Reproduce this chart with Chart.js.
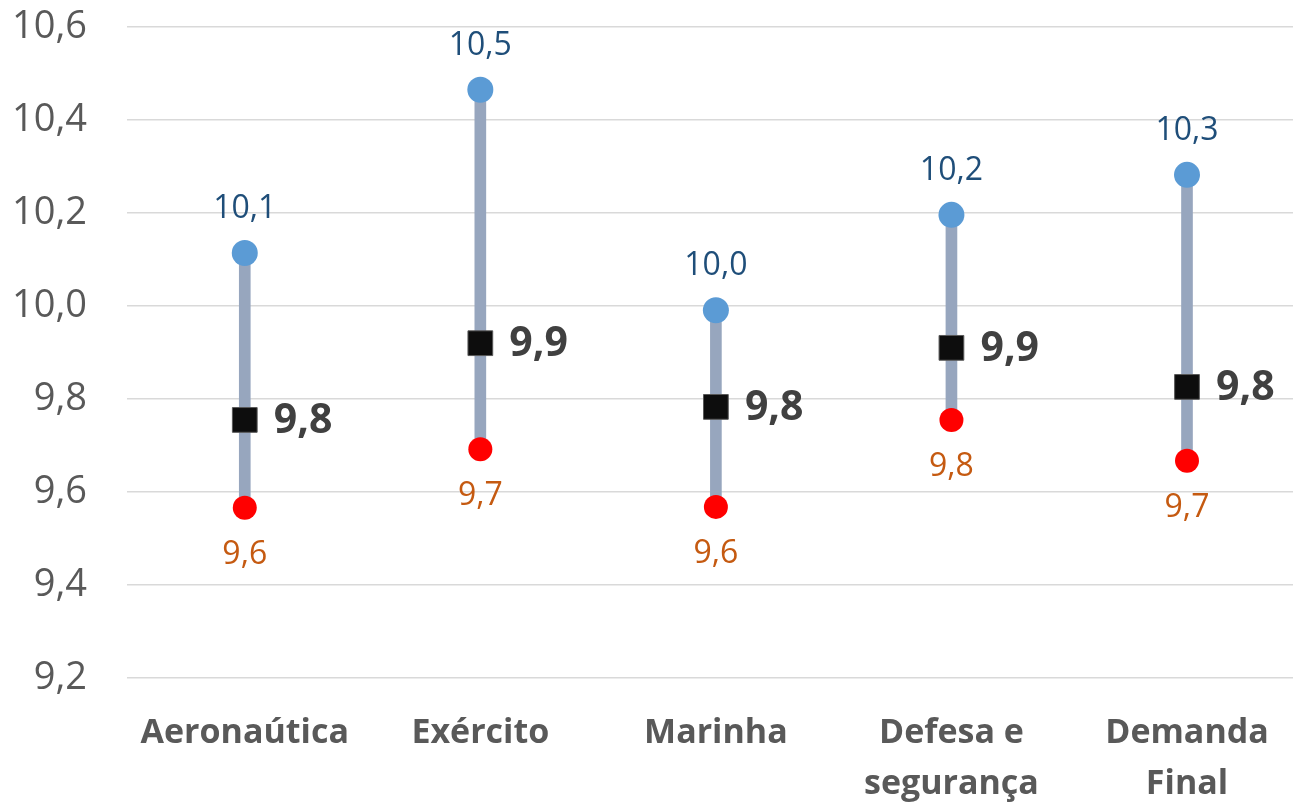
<!DOCTYPE html>
<html>
<head>
<meta charset="utf-8">
<script src="https://cdn.jsdelivr.net/npm/chart.js@4.4.1/dist/chart.umd.min.js"></script>
<style>
  html, body { margin: 0; padding: 0; background: #fff; }
  #wrap { width: 1293px; height: 803px; }
</style>
</head>
<body>
<div id="wrap"><canvas id="chart" width="1293" height="803"></canvas></div>
<script>
// categorias (rótulos em várias linhas quando quebram no original)
var categorias = [['Aeronaútica'], ['Exército'], ['Marinha'], ['Defesa e', 'segurança'], ['Demanda', 'Final']];
// valores
var maximos = [10.114, 10.465, 9.991, 10.196, 10.282];
var minimos = [9.566, 9.692, 9.568, 9.755, 9.667];
var medias  = [9.755, 9.920, 9.783, 9.910, 9.826];
var ticksY  = [9.2, 9.4, 9.6, 9.8, 10.0, 10.2, 10.4, 10.6];

var FONTE = "'Open Sans', sans-serif";

function fmt(v) { return v.toFixed(1).replace('.', ','); }

function pontos(arr) {
  return arr.map(function (v, i) { return { x: i, y: v }; });
}

// plugin simples para os rótulos de dados
var rotulos = {
  id: 'rotulos',
  afterDatasetsDraw: function (chart) {
    var ctx = chart.ctx;
    ctx.save();
    ctx.textBaseline = 'middle';

    var metaMax = chart.getDatasetMeta(1);
    ctx.font = '32px ' + FONTE;
    ctx.fillStyle = '#1F4E79';
    ctx.textAlign = 'center';
    metaMax.data.forEach(function (el, i) {
      ctx.fillText(fmt(maximos[i]), el.x, el.y - 44);
    });

    var metaMin = chart.getDatasetMeta(2);
    ctx.fillStyle = '#C55A11';
    metaMin.data.forEach(function (el, i) {
      ctx.fillText(fmt(minimos[i]), el.x, el.y + 47);
    });

    var metaMed = chart.getDatasetMeta(3);
    ctx.font = 'bold 41px ' + FONTE;
    ctx.fillStyle = '#404040';
    ctx.textAlign = 'left';
    metaMed.data.forEach(function (el, i) {
      ctx.fillText(fmt(medias[i]), el.x + 29, el.y + 1);
    });
    ctx.restore();
  }
};

new Chart(document.getElementById('chart'), {
  type: 'bar',
  data: {
    datasets: [
      {
        type: 'bar',
        data: minimos.map(function (v, i) { return { x: i, y: [v, maximos[i]] }; }),
        backgroundColor: '#97A6BE',
        barThickness: 11,
        order: 10
      },
      {
        type: 'scatter',
        data: pontos(maximos),
        pointRadius: 13,
        pointBackgroundColor: '#5B9BD5',
        pointBorderWidth: 0,
        order: 3
      },
      {
        type: 'scatter',
        data: pontos(minimos),
        pointRadius: 12,
        pointBackgroundColor: '#FF0000',
        pointBorderWidth: 0,
        order: 2
      },
      {
        type: 'scatter',
        data: pontos(medias),
        pointStyle: 'rect',
        pointRadius: 17.5,
        pointBackgroundColor: '#0D0D0D',
        pointBorderColor: '#595959',
        pointBorderWidth: 1,
        order: 1
      }
    ]
  },
  options: {
    responsive: false,
    animation: false,
    layout: { autoPadding: false, padding: 0 },
    plugins: { legend: { display: false }, tooltip: { enabled: false } },
    scales: {
      x: {
        type: 'linear',
        offset: false,
        min: -0.5,
        max: 4.45,
        grid: { display: false },
        border: { display: false },
        afterBuildTicks: function (axis) {
          axis.ticks = [0, 1, 2, 3, 4].map(function (v) { return { value: v }; });
        },
        afterFit: function (axis) {
          axis.height = 125;
          axis.paddingLeft = 0;
          axis.paddingRight = 0;
        },
        ticks: {
          autoSkip: false,
          maxRotation: 0,
          padding: 22,
          color: '#595959',
          font: { family: FONTE, size: 34, weight: 'bold', lineHeight: 1.5 },
          callback: function (v) { return categorias[v]; }
        }
      },
      y: {
        min: 9.2,
        max: 10.6,
        afterBuildTicks: function (axis) {
          axis.ticks = ticksY.map(function (v) { return { value: v }; });
        },
        afterFit: function (axis) {
          axis.width = 127;
          axis.paddingTop = 27;
          axis.paddingBottom = 0;
        },
        grid: { color: '#D9D9D9', lineWidth: 1.5, drawTicks: false },
        border: { display: false },
        ticks: {
          padding: 40,
          color: '#595959',
          font: { family: FONTE, size: 38 },
          callback: function (v) { return fmt(v); }
        }
      }
    }
  },
  plugins: [rotulos]
});
</script>
</body>
</html>
